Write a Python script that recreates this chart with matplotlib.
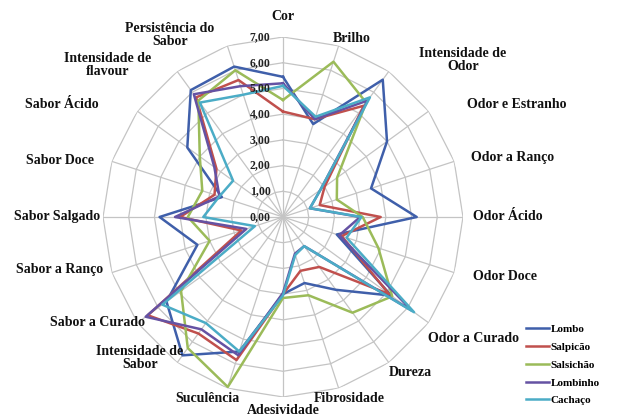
import numpy as np
import matplotlib
matplotlib.use("Agg")
import matplotlib.pyplot as plt

categories = ["Cor", "Brilho", "Intensidade de\nOdor", "Odor e Estranho", "Odor a Ranço",
              "Odor Ácido", "Odor Doce", "Odor a Curado", "Dureza", "Fibrosidade",
              "Adesividade", "Suculência", "Intensidade de\nSabor", "Sabor a Curado",
              "Sabor a Ranço", "Sabor Salgado", "Sabor Doce", "Sabor Ácido",
              "Intensidade de\nflavour", "Persistência do\nSabor"]

lombo     = [5.45, 3.8, 6.6, 5.0, 3.6, 5.2, 2.2, 5.2, 3.5, 2.7, 3.0, 5.5, 6.65, 5.6, 3.5, 4.8, 2.5, 4.6, 6.1, 6.15]
salpicao  = [4.1, 4.0, 5.35, 2.0, 1.5, 3.8, 2.4, 5.1, 2.4, 2.2, 3.0, 5.85, 5.6, 6.5, 1.7, 4.0, 2.8, 3.2, 5.75, 5.6]
salsichao = [4.55, 6.35, 5.5, 2.6, 2.2, 3.1, 3.9, 5.25, 4.6, 3.2, 3.15, 6.95, 6.3, 4.9, 3.0, 3.7, 3.3, 4.0, 5.6, 6.0]
lombinho  = [5.2, 4.0, 5.6, 1.8, 1.1, 3.0, 2.3, 6.2, 1.4, 1.5, 2.95, 5.65, 5.4, 6.6, 1.5, 4.2, 2.6, 3.3, 5.9, 5.35]
cachaco   = [5.1, 4.1, 5.75, 1.8, 1.1, 3.05, 2.6, 6.3, 1.4, 1.55, 3.05, 5.5, 5.1, 5.8, 1.15, 3.1, 2.6, 2.4, 5.5, 5.0]

series_names = ["Lombo", "Salpicão", "Salsichão", "Lombinho", "Cachaço"]
series_vals = [lombo, salpicao, salsichao, lombinho, cachaco]
ticks = [0, 1, 2, 3, 4, 5, 6, 7]
tick_labels = ["0,00", "1,00", "2,00", "3,00", "4,00", "5,00", "6,00", "7,00"]

colors = ["#3F5FAA", "#C0504D", "#9BBB59", "#6552A3", "#4BACC6"]

W, H = 636, 416
fig = plt.figure(figsize=(W / 100, H / 100), dpi=100)
cx, cy, R = 283, 217, 180
ax = fig.add_axes([(cx - R) / W, (H - cy - R) / H, 2 * R / W, 2 * R / H], projection="polar")
ax.set_theta_zero_location("N")
ax.set_theta_direction(-1)
ax.set_ylim(0, 7)
ax.axis("off")

n = len(categories)
ang = np.arange(n) * 2 * np.pi / n
ang_c = np.append(ang, ang[0])

grid_col = "#C4C4C4"
for t in ticks[1:]:
    ax.plot(ang_c, [t] * (n + 1), color=grid_col, lw=0.9, zorder=1)
for a in ang:
    ax.plot([a, a], [0, 7], color=grid_col, lw=0.9, zorder=1)

lines = []
for name, vals, c in zip(series_names, series_vals, colors):
    v = np.append(vals, vals[0])
    ln, = ax.plot(ang_c, v, color=c, lw=1.8, label=name, zorder=3)
    lines.append(ln)

font = "Liberation Serif"
for t, lab in zip(ticks, tick_labels):
    ax.annotate(lab, xy=(0, t), xytext=(-9, 0), textcoords="offset points",
                ha="right", va="center", fontsize=8.5, fontweight="bold",
                family=font, color="#222222", zorder=4)

# label centers in pixels (layout)
label_px = [(283, 17), (352, 38), (463, 60), (517, 105), (513, 158), (508, 216),
            (505, 276), (474, 339), (410, 372), (349, 398), (283, 411), (207, 398),
            (140, 358), (98, 322), (60, 270), (57, 216), (60, 160), (62, 105),
            (108, 65), (170, 35)]
for lab, (px, py) in zip(categories, label_px):
    fig.text(px / W, 1 - py / H, lab, ha="center", va="center", fontsize=10,
             fontweight="bold", family=font, color="#111111", linespacing=1.0,
             multialignment="center")

leg = fig.legend(handles=lines, loc="upper left", bbox_to_anchor=(522 / W, 1 - 320 / H),
                 frameon=False, prop={"family": font, "weight": "bold", "size": 8},
                 handlelength=2.0, handletextpad=0.2, labelspacing=0.72, borderaxespad=0)

fig.savefig("out.png", dpi=100, facecolor="white")
